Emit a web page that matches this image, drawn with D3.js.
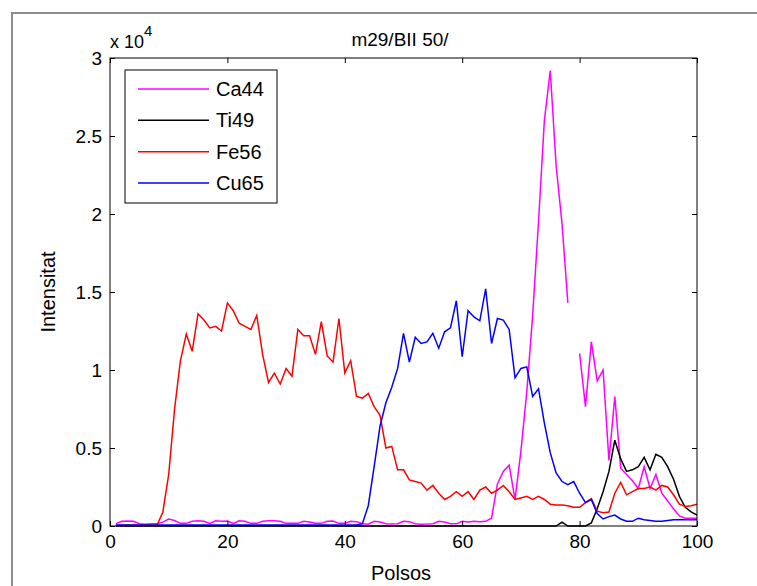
<!DOCTYPE html>
<html>
<head>
<meta charset="utf-8">
<script src="https://cdn.jsdelivr.net/npm/d3@7"></script>
<style>
body { margin: 0 ; background: #fff ; }
text { font-family: "Liberation Sans", Arial, sans-serif ; }
</style>
</head>
<body>
<div id="chart"></div>
<script>

const viewWidth = 757 ;
const viewHeight = 586 ;

// pulse 1..100, one value per pulse (null = no reading)
var ca44 = [
	150, 300, 320, 300, 150, 120, 150, 150, 250, 450,
	350, 170, 170, 300, 330, 300, 170, 330, 300, 320,
	170, 330, 300, 170, 170, 300, 330, 330, 300, 170,
	170, 170, 300, 250, 170, 170, 300, 320, 170, 170,
	300, 280, 150, 120, 300, 250, 150, 130, 150, 300,
	280, 150, 120, 130, 150, 300, 260, 150, 140, 300,
	250, 300, 280, 300, 500, 2700, 3500, 3900, 1700, 4800,
	8600, 13500, 19500, 26000, 29200, 23100, 19400, 14300, null, 11070,
	7650, 11800, 9300, 10000, 4200, 8300, 3700, 3300, 2900, 2400,
	3800, 2400, 3300, 2100, 1600, 1100, 650, 500, 500, 500
] ;

var ti49 = [
	0, 0, 0, 0, 0, 0, 0, 0, 0, 0,
	0, 0, 0, 0, 0, 0, 0, 0, 0, 0,
	0, 0, 0, 0, 0, 0, 0, 0, 0, 0,
	0, 0, 0, 0, 0, 0, 0, 0, 0, 0,
	0, 0, 0, 0, 0, 0, 0, 0, 0, 0,
	0, 0, 0, 0, 0, 0, 0, 0, 0, 0,
	0, 0, 0, 0, 0, 0, 0, 0, 0, 0,
	0, 0, 0, 0, 0, 0, 250, 0, 0, 0,
	0, 200, 1100, 2200, 3500, 5500, 4300, 3500, 3600, 3800,
	4400, 3600, 4600, 4400, 3800, 3000, 1900, 1200, 900, 700
] ;

var fe56 = [
	50, 40, 60, 50, 40, 60, 50, 30, 900, 3300,
	7500, 10600, 12300, 11200, 13600, 13200, 12700, 12800, 12500, 14300,
	13800, 13000, 12800, 12600, 13500, 11000, 9200, 9800, 9100, 10100,
	9600, 12600, 12200, 12200, 11000, 13100, 10900, 10500, 13300, 9800,
	10600, 8300, 8200, 8500, 7650, 7100, 5000, 5100, 3600, 3600,
	2950, 2850, 2750, 2300, 2600, 2100, 1700, 1900, 2200, 1900,
	2200, 1700, 2300, 2500, 2100, 2300, 2600, 2200, 1700, 1800,
	1900, 1700, 1900, 1700, 1400, 1350, 1350, 1300, 1200, 1200,
	1500, 1750, 950, 850, 900, 2100, 2800, 2000, 2200, 2400,
	2400, 2500, 2300, 2600, 2500, 2000, 1400, 1250, 1300, 1400
] ;

var cu65 = [
	60, 60, 60, 60, 60, 60, 60, 60, 60, 60,
	60, 60, 60, 60, 60, 60, 60, 60, 60, 60,
	60, 60, 60, 60, 60, 60, 60, 60, 60, 60,
	60, 60, 60, 60, 60, 60, 60, 60, 60, 60,
	60, 60, 150, 1300, 3800, 6400, 7900, 8900, 10100, 12350,
	10500, 12100, 11700, 11800, 12350, 11400, 12450, 12700, 14440, 10850,
	13800, 13400, 13150, 15200, 11700, 13300, 13200, 12600, 9500, 10100,
	10200, 8300, 8800, 6600, 4700, 3400, 2850, 2650, 2850, 2100,
	1500, 1700, 800, 450, 600, 700, 450, 300, 300, 500,
	400, 350, 300, 300, 350, 400, 400, 400, 400, 400
] ;

var seriesNames = [ "Ca44", "Ti49", "Fe56", "Cu65" ] ;
var seriesColors = [ "#ff00ff", "#000000", "#ff0000", "#0000ff" ] ;
var xTicks = [ 0, 20, 40, 60, 80, 100 ] ;
var yTicks = [ 0, 5000, 10000, 15000, 20000, 25000, 30000 ] ;


function drawChart( div ) {

	const svg = d3.select( div ).append("svg")
		.attr("width", viewWidth)
		.attr("height", viewHeight)

	// window frame
	svg.append("path")
		.attr("d", "M12,586 L12,13 L757,13")
		.attr("fill", "none")
		.attr("stroke", "#8c8c8c")
		.attr("stroke-width", 2)

	const x = d3.scaleLinear().domain([0, 100]).range([110, 697])
	const y = d3.scaleLinear().domain([0, 30000]).range([526, 58])

	const data = [ ca44, ti49, fe56, cu65 ]

	const line = d3.line()
		.defined( function(d) { return d !== null ; } )
		.x( function(d, i) { return x(i + 1) ; } )
		.y( function(d) { return y(d) ; } )

	const plot = svg.append("g")
	plot.selectAll("path")
		.data( data )
		.enter().append("path")
			.attr("d", line)
			.attr("fill", "none")
			.attr("stroke", function(d, i) { return seriesColors[i] ; })
			.attr("stroke-width", 1.5)

	// axes, ticks pointing inwards like matlab
	const fmt = function(d) { return d / 10000 ; }

	svg.append("g")
		.attr("transform", "translate(0,526)")
		.call( d3.axisBottom(x).tickValues(xTicks).tickSizeInner(-5).tickSizeOuter(0).tickPadding(9) )
	svg.append("g")
		.attr("transform", "translate(110,0)")
		.call( d3.axisLeft(y).tickValues(yTicks).tickFormat(fmt).tickSizeInner(-5).tickSizeOuter(0).tickPadding(8) )
	svg.append("g")
		.attr("transform", "translate(0,58)")
		.call( d3.axisTop(x).tickValues(xTicks).tickFormat("").tickSizeInner(-5).tickSizeOuter(0) )
	svg.append("g")
		.attr("transform", "translate(697,0)")
		.call( d3.axisRight(y).tickValues(yTicks).tickFormat("").tickSizeInner(-5).tickSizeOuter(0) )

	svg.selectAll(".domain").remove()
	svg.selectAll(".tick line").attr("stroke", "#000")
	svg.selectAll(".tick text")
		.attr("font-size", 19)
		.attr("font-family", "Liberation Sans, Arial, sans-serif")
		.attr("fill", "#000")

	svg.append("rect")
		.attr("x", 110).attr("y", 58)
		.attr("width", 587).attr("height", 468)
		.attr("fill", "none")
		.attr("stroke", "#000")
		.attr("stroke-width", 1)

	// exponent label
	const ex = svg.append("text")
		.attr("x", 110).attr("y", 48)
		.attr("font-size", 18)
	ex.append("tspan").text("x 10")
	ex.append("tspan").attr("dy", -12).attr("font-size", 15).text("4")

	svg.append("text")
		.attr("x", 400).attr("y", 46)
		.attr("text-anchor", "middle")
		.attr("font-size", 19)
		.text("m29/BII 50/")

	svg.append("text")
		.attr("x", 401).attr("y", 580)
		.attr("text-anchor", "middle")
		.attr("font-size", 20)
		.text("Polsos")

	svg.append("text")
		.attr("transform", "translate(55,292) rotate(-90)")
		.attr("text-anchor", "middle")
		.attr("font-size", 20)
		.text("Intensitat")

	// legend
	const legend = svg.append("g")
	legend.append("rect")
		.attr("x", 125).attr("y", 70)
		.attr("width", 152).attr("height", 133)
		.attr("fill", "#fff")
		.attr("stroke", "#000")

	const ly = d3.scalePoint().domain(seriesNames).range([89, 183])
	const items = legend.selectAll(".item")
		.data( seriesNames )
		.enter().append("g")
			.attr("class", "item")
			.attr("transform", function(d) { return "translate(0," + ly(d) + ")" ; })
	items.append("line")
		.attr("x1", 138).attr("x2", 209)
		.attr("stroke", function(d, i) { return seriesColors[i] ; })
		.attr("stroke-width", 1.5)
	items.append("text")
		.attr("x", 216).attr("y", 7)
		.attr("font-size", 20)
		.text( function(d) { return d ; } )
}

drawChart( document.getElementById("chart") ) ;

</script>
</body>
</html>
